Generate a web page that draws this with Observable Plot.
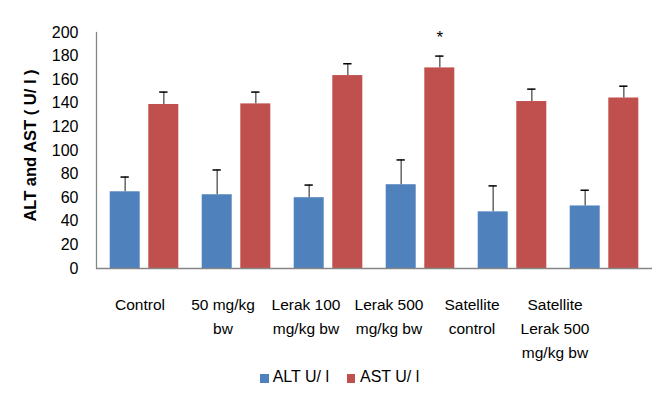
<!DOCTYPE html>
<html>
<head>
<meta charset="utf-8">
<script src="https://cdn.jsdelivr.net/npm/d3@7"></script>
<script src="https://cdn.jsdelivr.net/npm/@observablehq/plot@0.6"></script>
<style>
  body { margin: 0; background: #fff; }
  #wrap { position: relative; width: 669px; height: 393px; overflow: hidden; background: #fff;
          font-family: "Liberation Sans", Arial, sans-serif; font-size: 16px; color: #000; }
  #wrap svg { position: absolute; left: 0; }
  .sw { position: absolute; width: 8.5px; height: 8.5px; }
  .lt { position: absolute; line-height: 16px; white-space: nowrap; }
</style>
</head>
<body>
<div id="wrap"></div>
<script>
const categories = ["Control", "50 mg/kg bw", "Lerak 100 mg/kg bw", "Lerak 500 mg/kg bw", "Satellite control", "Satellite Lerak 500 mg/kg bw"];
const tickLabels = ["Control", "50 mg/kg\nbw", "Lerak 100\nmg/kg bw", "Lerak 500\nmg/kg bw", "Satellite\ncontrol", "Satellite\nLerak 500\nmg/kg bw"];
const altValues = [65, 62.5, 60, 71, 48, 53];
const altErrors = [12.5, 21, 10.7, 21, 22, 13.3];
const astValues = [139, 139.5, 163.5, 170, 141.5, 144.5];
const astErrors = [10.5, 10, 10, 10, 10.5, 10];
const yTicks = [0, 20, 40, 60, 80, 100, 120, 140, 160, 180, 200];
const seriesNames = ["ALT U/ l", "AST U/ l"];
const colors = ["#4F81BD", "#C0504D"];
const yLabel = "ALT and AST ( U/ l )";
const significance = [{category: "Lerak 500 mg/kg bw", mark: "*"}];

const alt = categories.map((c, i) => ({category: c, value: altValues[i], err: altErrors[i]}));
const ast = categories.map((c, i) => ({category: c, value: astValues[i], err: astErrors[i]}));
const sig = significance.map(s => {
  const i = categories.indexOf(s.category);
  return {...s, top: astValues[i] + astErrors[i]};
});

const font = {fontFamily: "'Liberation Sans', Arial, sans-serif", fontSize: "16px", color: "#000", background: "transparent", overflow: "visible"};
const wrap = document.getElementById("wrap");

const main = Plot.plot({
  width: 669, height: 280,
  marginLeft: 96, marginRight: 17, marginTop: 32, marginBottom: 12,
  style: font,
  x: {type: "band", domain: categories, padding: 0, axis: null},
  y: {domain: [0, 200]},
  marks: [
    Plot.barY(alt, {x: "category", y: "value", fill: colors[0], insetLeft: 11.7, insetRight: 50.3}),
    Plot.barY(ast, {x: "category", y: "value", fill: colors[1], insetLeft: 50.3, insetRight: 11.7}),
    Plot.ruleX(alt, {x: "category", y1: "value", y2: d => d.value + d.err, dx: -19.3, stroke: "#6f6f6f", strokeWidth: 1.6}),
    Plot.ruleX(ast, {x: "category", y1: "value", y2: d => d.value + d.err, dx: 19.3, stroke: "#6f6f6f", strokeWidth: 1.6}),
    Plot.tickY(alt, {x: "category", y: d => d.value + d.err, insetLeft: 22.5, insetRight: 61.2, stroke: "#000", strokeWidth: 1.5}),
    Plot.tickY(ast, {x: "category", y: d => d.value + d.err, insetLeft: 61.2, insetRight: 22.5, stroke: "#000", strokeWidth: 1.5}),
    Plot.ruleY([0], {stroke: "#868686", strokeWidth: 1.3}),
    Plot.frame({anchor: "left", stroke: "#868686", strokeWidth: 1.3}),
    Plot.axisY({ticks: yTicks, tickSize: 0, tickPadding: 18, label: null, fill: "#000"}),
    Plot.text(sig, {x: "category", y: "top", text: "mark", dx: 19.3, dy: -19, fontSize: 17, fill: "#000"}),
    Plot.text([yLabel], {frameAnchor: "left", text: d => d, rotate: -90, textAnchor: "middle", lineAnchor: "middle", dx: -66, dy: -5, fontWeight: "bold", fontSize: 16.5, fill: "#000"})
  ]
});
main.style.top = "0px";
wrap.appendChild(main);

const labels = Plot.plot({
  width: 669, height: 90,
  marginLeft: 96, marginRight: 72, marginTop: 12.8, marginBottom: 0,
  style: font,
  x: {type: "band", domain: categories, padding: 0, axis: null},
  marks: [
    Plot.text(categories, {x: d => d, text: d => tickLabels[categories.indexOf(d)], frameAnchor: "top", lineAnchor: "top", textAnchor: "middle", lineHeight: 1.55, fontSize: 15.5, fill: "#000"})
  ]
});
labels.style.top = "280px";
wrap.appendChild(labels);

// legend
const legendPos = [{sq: 260, tx: 272.7}, {sq: 346.7, tx: 360}];
seriesNames.forEach((name, i) => {
  const sq = document.createElement("div");
  sq.className = "sw";
  sq.style.left = legendPos[i].sq + "px";
  sq.style.top = "374.3px";
  sq.style.background = colors[i];
  wrap.appendChild(sq);
  const t = document.createElement("div");
  t.className = "lt";
  t.style.left = legendPos[i].tx + "px";
  t.style.top = "369.2px";
  t.textContent = name;
  wrap.appendChild(t);
});
</script>
</body>
</html>
